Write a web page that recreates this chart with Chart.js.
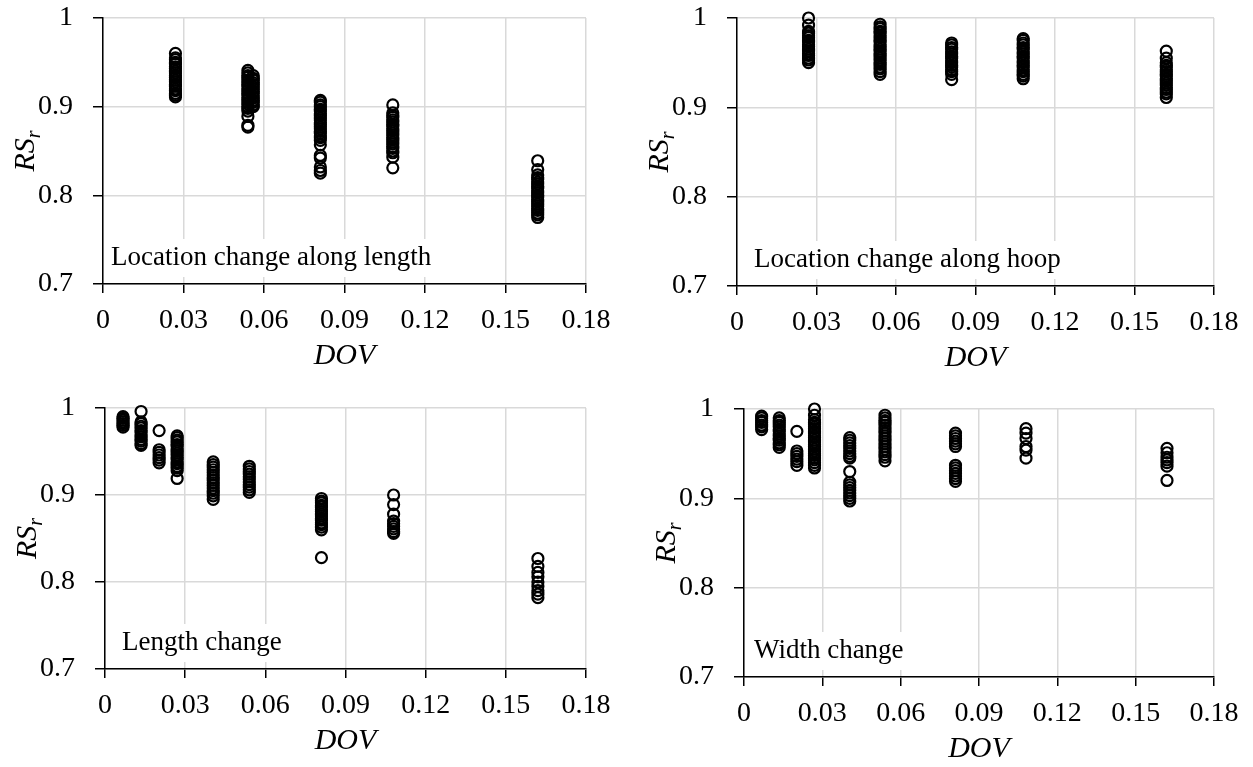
<!DOCTYPE html>
<html>
<head>
<meta charset="utf-8">
<script src="https://cdn.jsdelivr.net/npm/chart.js@4.4.1/dist/chart.umd.min.js"></script>
<style>
  body { margin: 0; background: #fff; }
  .panel { position: absolute; }
</style>
</head>
<body>
<canvas id="c1" class="panel" width="626" height="383" style="left:0;top:0"></canvas>
<canvas id="c2" class="panel" width="627" height="383" style="left:626px;top:0"></canvas>
<canvas id="c3" class="panel" width="626" height="384" style="left:0;top:383px"></canvas>
<canvas id="c4" class="panel" width="627" height="384" style="left:626px;top:383px"></canvas>
<script>
// Four RS_r vs DOV scatter panels, one column of points per DOV level.
const xTicks = [0, 0.03, 0.06, 0.09, 0.12, 0.15, 0.18];
const xTickLabels = ["0", "0.03", "0.06", "0.09", "0.12", "0.15", "0.18"];
const yTicks = [0.7, 0.8, 0.9, 1];
const yTickLabels = ["0.7", "0.8", "0.9", "1"];

// location change along length
const dovAlongLength = [0.027, 0.054, 0.056, 0.081, 0.108, 0.162];
const rsAlongLength = [
  [0.960, 0.955, 0.953, 0.950, 0.948, 0.945, 0.943, 0.940, 0.938, 0.935, 0.933, 0.930, 0.928, 0.925, 0.923, 0.920, 0.918, 0.915, 0.913, 0.911],
  [0.941, 0.938, 0.935, 0.933, 0.930, 0.928, 0.925, 0.923, 0.920, 0.918, 0.915, 0.913, 0.910, 0.908, 0.905, 0.903, 0.900, 0.898, 0.895, 0.889, 0.879, 0.877],
  [0.935, 0.932, 0.930, 0.927, 0.925, 0.922, 0.920, 0.917, 0.915, 0.912, 0.910, 0.907, 0.905, 0.902, 0.900],
  [0.907, 0.905, 0.902, 0.900, 0.897, 0.895, 0.892, 0.890, 0.887, 0.885, 0.882, 0.880, 0.877, 0.875, 0.872, 0.870, 0.867, 0.865, 0.862, 0.857, 0.845, 0.842, 0.832, 0.828, 0.825],
  [0.902, 0.893, 0.890, 0.888, 0.885, 0.883, 0.880, 0.878, 0.875, 0.873, 0.870, 0.868, 0.865, 0.863, 0.860, 0.858, 0.855, 0.853, 0.850, 0.848, 0.843, 0.831],
  [0.839, 0.829, 0.823, 0.820, 0.818, 0.815, 0.813, 0.810, 0.808, 0.805, 0.803, 0.800, 0.798, 0.795, 0.793, 0.790, 0.788, 0.785, 0.783, 0.780, 0.778, 0.775]
];

// location change along hoop
const dovAlongHoop = [0.027, 0.054, 0.081, 0.108, 0.162];
const rsAlongHoop = [
  [1.000, 0.992, 0.985, 0.983, 0.980, 0.978, 0.975, 0.973, 0.970, 0.968, 0.965, 0.963, 0.960, 0.958, 0.955, 0.953, 0.950],
  [0.993, 0.990, 0.988, 0.985, 0.983, 0.980, 0.978, 0.975, 0.973, 0.970, 0.968, 0.965, 0.963, 0.960, 0.958, 0.955, 0.953, 0.950, 0.948, 0.945, 0.943, 0.940, 0.937],
  [0.972, 0.970, 0.967, 0.965, 0.962, 0.960, 0.957, 0.955, 0.952, 0.950, 0.947, 0.945, 0.942, 0.940, 0.937, 0.931],
  [0.977, 0.975, 0.972, 0.970, 0.967, 0.965, 0.962, 0.960, 0.957, 0.955, 0.952, 0.950, 0.947, 0.945, 0.942, 0.940, 0.937, 0.935, 0.932],
  [0.963, 0.955, 0.950, 0.947, 0.945, 0.942, 0.940, 0.937, 0.935, 0.932, 0.930, 0.927, 0.925, 0.922, 0.920, 0.917, 0.915, 0.911]
];

// length change
const dovLength = [0.00675, 0.0135, 0.02025, 0.027, 0.0405, 0.054, 0.081, 0.108, 0.162];
const rsLength = [
  [0.990, 0.988, 0.986, 0.984, 0.982, 0.980, 0.978],
  [0.996, 0.984, 0.982, 0.979, 0.977, 0.974, 0.972, 0.969, 0.967, 0.964, 0.962, 0.959, 0.957],
  [0.974, 0.952, 0.949, 0.946, 0.943, 0.940, 0.937],
  [0.968, 0.966, 0.963, 0.961, 0.958, 0.956, 0.953, 0.951, 0.948, 0.946, 0.943, 0.941, 0.938, 0.936, 0.933, 0.931, 0.928, 0.919],
  [0.938, 0.935, 0.932, 0.929, 0.926, 0.923, 0.920, 0.917, 0.914, 0.911, 0.908, 0.905, 0.902, 0.899, 0.895],
  [0.933, 0.930, 0.927, 0.924, 0.921, 0.918, 0.915, 0.912, 0.909, 0.906, 0.903],
  [0.896, 0.893, 0.891, 0.888, 0.886, 0.883, 0.881, 0.878, 0.876, 0.873, 0.871, 0.868, 0.866, 0.863, 0.860, 0.828],
  [0.900, 0.889, 0.878, 0.870, 0.867, 0.864, 0.861, 0.858, 0.856],
  [0.827, 0.818, 0.811, 0.806, 0.800, 0.795, 0.790, 0.786, 0.782]
];

// width change
const dovWidth = [0.00675, 0.0135, 0.02025, 0.027, 0.0405, 0.054, 0.081, 0.108, 0.162];
const rsWidth = [
  [0.992, 0.990, 0.987, 0.985, 0.982, 0.980, 0.977],
  [0.990, 0.987, 0.985, 0.982, 0.980, 0.977, 0.975, 0.972, 0.970, 0.967, 0.965, 0.962, 0.960, 0.957],
  [0.975, 0.953, 0.950, 0.947, 0.944, 0.941, 0.937],
  [1.000, 0.993, 0.988, 0.985, 0.983, 0.980, 0.978, 0.975, 0.973, 0.970, 0.968, 0.965, 0.963, 0.960, 0.958, 0.955, 0.953, 0.950, 0.948, 0.945, 0.943, 0.940, 0.937, 0.934],
  [0.968, 0.965, 0.962, 0.959, 0.956, 0.953, 0.950, 0.947, 0.945, 0.930, 0.918, 0.915, 0.912, 0.909, 0.906, 0.903, 0.900, 0.897],
  [0.993, 0.990, 0.987, 0.985, 0.982, 0.979, 0.976, 0.973, 0.970, 0.967, 0.964, 0.961, 0.958, 0.955, 0.952, 0.949, 0.946, 0.942],
  [0.973, 0.970, 0.967, 0.964, 0.961, 0.958, 0.937, 0.934, 0.931, 0.928, 0.925, 0.922, 0.919],
  [0.978, 0.973, 0.967, 0.958, 0.954, 0.945],
  [0.956, 0.951, 0.946, 0.943, 0.940, 0.936, 0.920]
];

const FONT = "'Liberation Serif', 'Times New Roman', serif";

// white-boxed label inside the plot + the RS_r / DOV axis titles
const panelText = {
  id: "panelText",
  beforeDatasetsDraw(chart, args, opts) {
    const ctx = chart.ctx, a = chart.chartArea;
    ctx.save();
    ctx.font = `27px ${FONT}`;
    const w = ctx.measureText(opts.label).width;
    const tx = a.left + opts.labelDx;
    const ty = a.bottom - 26;
    ctx.fillStyle = "#fff";
    ctx.fillRect(a.left + 2, ty - 19, tx - a.left + w + 6, 38);
    ctx.fillStyle = "#000";
    ctx.textBaseline = "middle";
    ctx.fillText(opts.label, tx, ty);
    ctx.restore();
  },
  afterDraw(chart, args, opts) {
    const ctx = chart.ctx, a = chart.chartArea;
    ctx.save();
    ctx.fillStyle = "#000";
    // x title
    ctx.font = `italic 30px ${FONT}`;
    ctx.textAlign = "center";
    ctx.textBaseline = "middle";
    ctx.fillText("DOV", (a.left + a.right) / 2, a.bottom + 72);
    // y title, rotated, with subscript r
    ctx.translate(a.left - 79, (a.top + a.bottom) / 2);
    ctx.rotate(-Math.PI / 2);
    ctx.textAlign = "left";
    ctx.textBaseline = "alphabetic";
    ctx.font = `italic 30px ${FONT}`;
    const mw = ctx.measureText("RS").width;
    ctx.font = `italic 20px ${FONT}`;
    const sw = ctx.measureText("r").width;
    const x0 = -(mw + sw) / 2;
    ctx.font = `italic 30px ${FONT}`;
    ctx.fillText("RS", x0, 10);
    ctx.font = `italic 20px ${FONT}`;
    ctx.fillText("r", x0 + mw, 16);
    ctx.restore();
  }
};

function makePanel(id, dovs, rs, label, box) {
  const pts = [];
  dovs.forEach((d, i) => rs[i].forEach(v => pts.push({ x: d, y: v })));
  const cv = document.getElementById(id);
  return new Chart(cv.getContext("2d"), {
    type: "scatter",
    data: {
      datasets: [{
        data: pts,
        pointStyle: "circle",
        pointRadius: 5.5,
        borderWidth: 2.2,
        borderColor: "#000",
        backgroundColor: "rgba(0,0,0,0)",
        clip: false
      }]
    },
    options: {
      responsive: false,
      animation: false,
      layout: { padding: { left: 0, top: box.top, right: cv.width - box.right, bottom: 0 } },
      plugins: {
        legend: { display: false },
        tooltip: { enabled: false },
        panelText: { label: label, labelDx: box.labelDx }
      },
      scales: {
        x: {
          type: "linear", min: 0, max: 0.18,
          afterBuildTicks: s => { s.ticks = xTicks.map(v => ({ value: v })); },
          afterFit: s => { s.height = cv.height - box.bottom; s.paddingLeft = 0; s.paddingRight = 0; },
          grid: { color: "#d9d9d9", lineWidth: 1.5, tickColor: "#000", tickLength: 9, tickWidth: 1.5 },
          border: { color: "#000", width: 1.5 },
          ticks: { callback: (v, i) => xTickLabels[i], color: "#000", padding: 11, maxRotation: 0,
                   font: { family: FONT, size: 28 } }
        },
        y: {
          type: "linear", min: 0.7, max: 1,
          afterBuildTicks: s => { s.ticks = yTicks.map(v => ({ value: v })); },
          afterFit: s => { s.width = box.left; s.paddingTop = 0; s.paddingBottom = 0; },
          grid: { color: "#d9d9d9", lineWidth: 1.5, tickColor: "#000", tickLength: 10, tickWidth: 1.5 },
          border: { color: "#000", width: 1.5 },
          ticks: { callback: (v, i) => yTickLabels[i], color: "#000", padding: 20,
                   font: { family: FONT, size: 28 } }
        }
      }
    },
    plugins: [panelText]
  });
}

makePanel("c1", dovAlongLength, rsAlongLength, "Location change along length", { left: 103, top: 18, right: 586, bottom: 284, labelDx: 8 });
makePanel("c2", dovAlongHoop, rsAlongHoop, "Location change along hoop", { left: 111, top: 18, right: 588, bottom: 286, labelDx: 17 });
makePanel("c3", dovLength, rsLength, "Length change", { left: 105, top: 25, right: 586, bottom: 286, labelDx: 17 });
makePanel("c4", dovWidth, rsWidth, "Width change", { left: 118, top: 26, right: 588, bottom: 294, labelDx: 10 });
</script>
</body>
</html>
